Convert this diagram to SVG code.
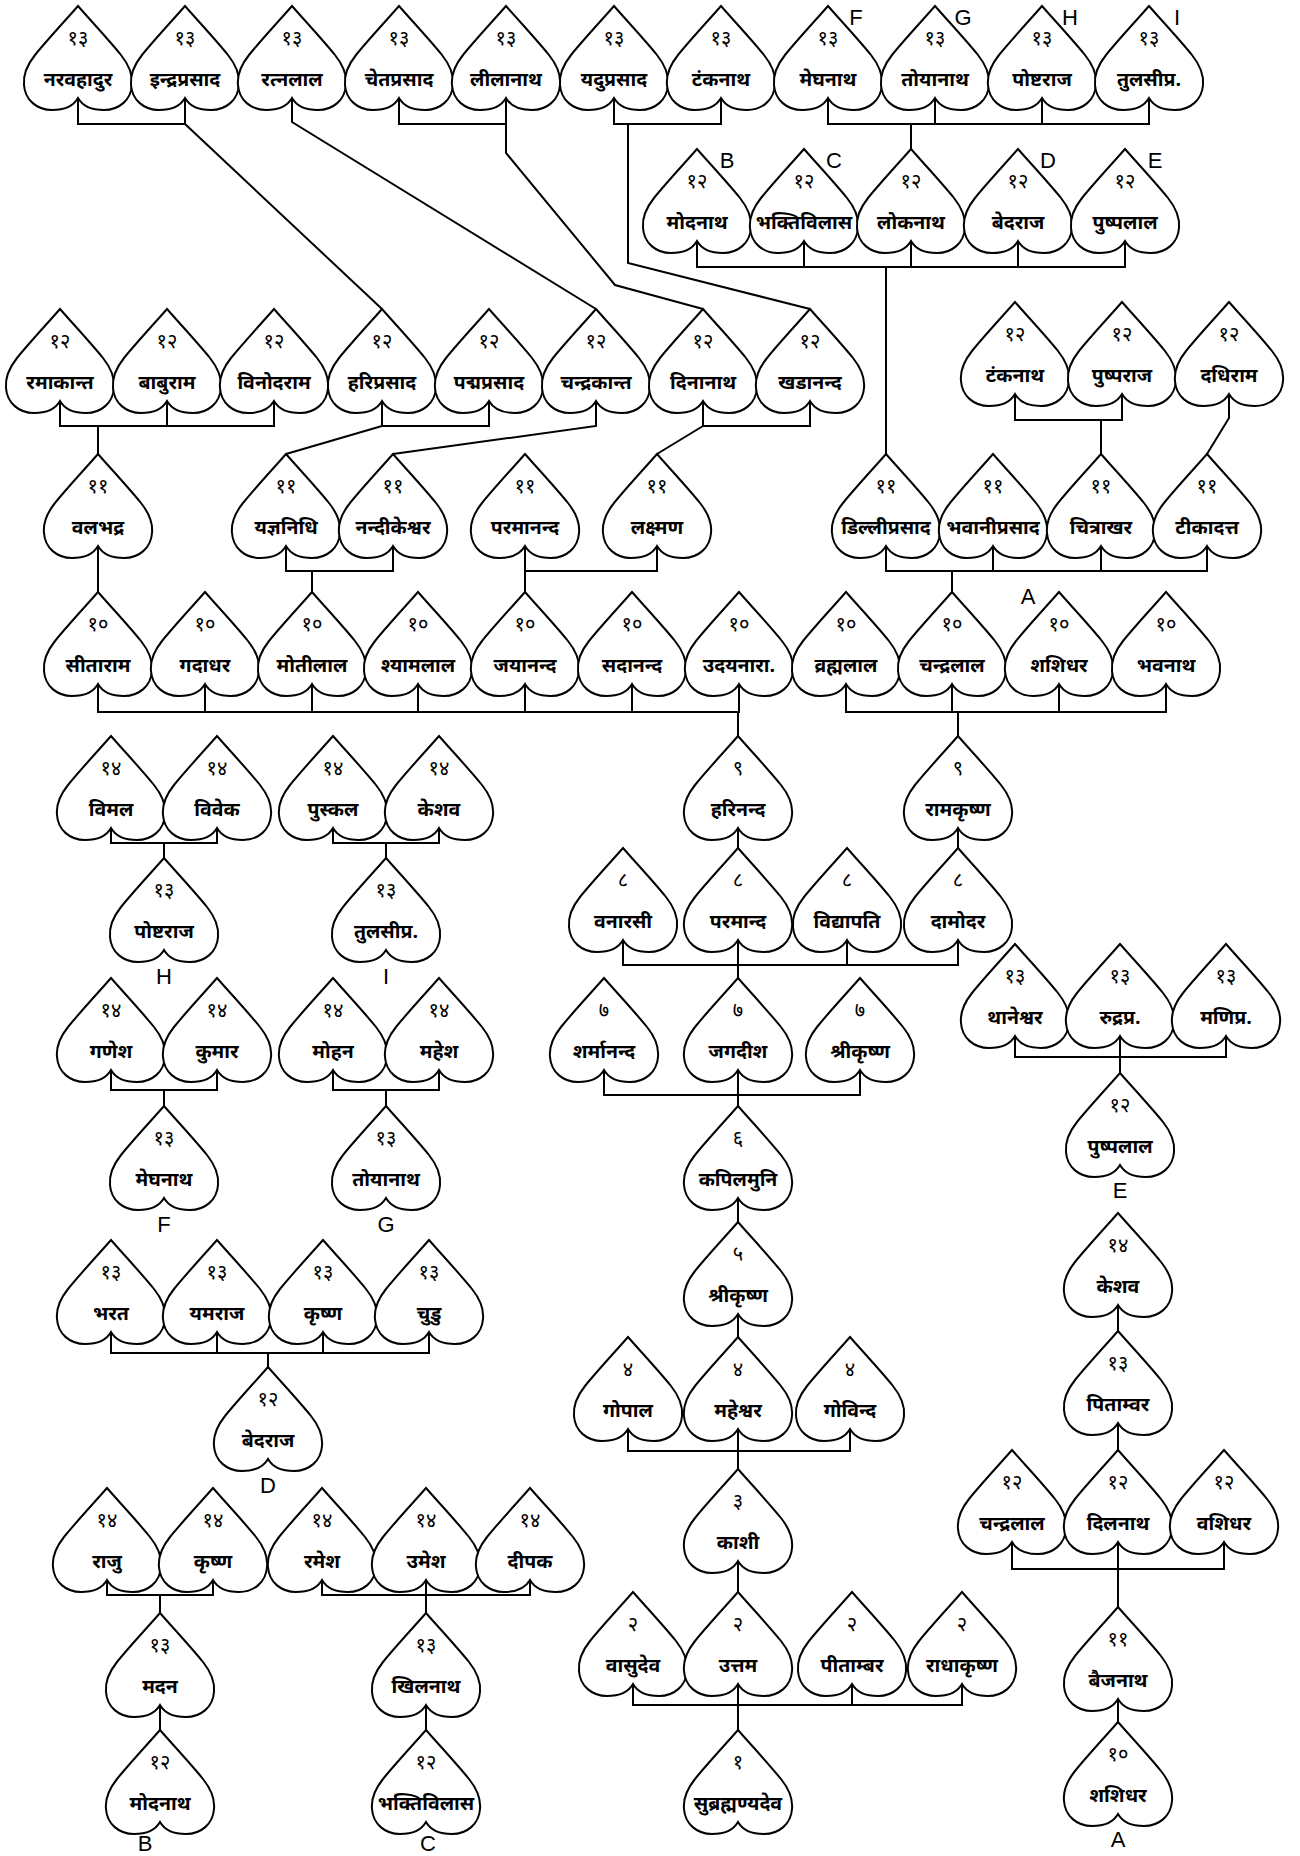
<svg xmlns="http://www.w3.org/2000/svg" xmlns:xlink="http://www.w3.org/1999/xlink" width="1300" height="1856" viewBox="0 0 1300 1856">
<style>
.n{font-family:"Noto Sans Devanagari","Lohit Devanagari","Noto Sans",sans-serif;font-size:20px;text-anchor:middle;fill:#000}
.t{font-family:"Noto Sans Devanagari","Lohit Devanagari","Noto Sans",sans-serif;font-size:19.5px;font-weight:bold;text-anchor:middle;fill:#000}
.l{font-family:"Liberation Sans",Arial,sans-serif;font-size:22px;text-anchor:middle;fill:#000}
#conn polyline{fill:none;stroke:#000;stroke-width:2}
</style>
<defs>
<path id="h" d="M0,0 C-14,16 -30,33 -43,49 C-51,59 -55,69 -54,79 C-53,94 -41,104 -26,104 C-13,104 -4,99 0,92 C4,99 13,104 26,104 C41,104 53,94 54,79 C55,69 51,59 43,49 C30,33 14,16 0,0 Z" fill="#fff" stroke="#000" stroke-width="2"/>
</defs>
<rect width="1300" height="1856" fill="#fff"/>
<g id="conn">
<polyline points="78,99 78,124 185,124 185,99"/>
<polyline points="185,124 382,309"/>
<polyline points="292,99 292,122 596,309"/>
<polyline points="399,99 399,124 506,124 506,99"/>
<polyline points="506,124 506,153 615,285 703,309"/>
<polyline points="614,99 614,124 721,124 721,99"/>
<polyline points="628,124 628,263 810,309"/>
<polyline points="828,99 828,124 1149,124 1149,99"/>
<polyline points="935,99 935,124"/>
<polyline points="1042,99 1042,124"/>
<polyline points="911,124 911,149"/>
<polyline points="697,242 697,267 1125,267 1125,242"/>
<polyline points="804,242 804,267"/>
<polyline points="911,242 911,267"/>
<polyline points="1018,242 1018,267"/>
<polyline points="886,267 886,454"/>
<polyline points="60,402 60,426 274,426 274,402"/>
<polyline points="167,402 167,426"/>
<polyline points="98,426 98,454"/>
<polyline points="382,402 382,426 489,426 489,402"/>
<polyline points="382,426 286,454"/>
<polyline points="596,402 596,426 393,454"/>
<polyline points="703,402 703,426 810,426 810,402"/>
<polyline points="703,426 657,454"/>
<polyline points="1015,395 1015,420 1122,420 1122,395"/>
<polyline points="1101,420 1101,454"/>
<polyline points="1229,395 1229,418 1207,454"/>
<polyline points="98,547 98,592"/>
<polyline points="286,547 286,571 393,571 393,547"/>
<polyline points="312,571 312,592"/>
<polyline points="525,547 525,571 657,571 657,547"/>
<polyline points="525,571 525,592"/>
<polyline points="886,547 886,571 1207,571 1207,547"/>
<polyline points="993,547 993,571"/>
<polyline points="1101,547 1101,571"/>
<polyline points="952,571 952,592"/>
<polyline points="98,685 98,712 739,712 739,685"/>
<polyline points="205,685 205,712"/>
<polyline points="312,685 312,712"/>
<polyline points="418,685 418,712"/>
<polyline points="525,685 525,712"/>
<polyline points="632,685 632,712"/>
<polyline points="738,712 738,736"/>
<polyline points="846,685 846,712 1166,712 1166,685"/>
<polyline points="952,685 952,712"/>
<polyline points="1059,685 1059,712"/>
<polyline points="958,712 958,736"/>
<polyline points="738,829 738,848"/>
<polyline points="958,829 958,848"/>
<polyline points="111,829 111,843 217,843 217,829"/>
<polyline points="164,843 164,858"/>
<polyline points="333,829 333,843 439,843 439,829"/>
<polyline points="386,843 386,858"/>
<polyline points="623,941 623,965 958,965 958,941"/>
<polyline points="847,941 847,965"/>
<polyline points="738,941 738,978"/>
<polyline points="1015,1037 1015,1057 1226,1057 1226,1037"/>
<polyline points="1120,1037 1120,1073"/>
<polyline points="111,1071 111,1090 217,1090 217,1071"/>
<polyline points="164,1090 164,1106"/>
<polyline points="333,1071 333,1090 439,1090 439,1071"/>
<polyline points="386,1090 386,1106"/>
<polyline points="604,1071 604,1095 860,1095 860,1071"/>
<polyline points="738,1071 738,1106"/>
<polyline points="738,1199 738,1222"/>
<polyline points="738,1315 738,1337"/>
<polyline points="628,1430 628,1451 850,1451 850,1430"/>
<polyline points="738,1430 738,1469"/>
<polyline points="738,1562 738,1592"/>
<polyline points="633,1685 633,1705 962,1705 962,1685"/>
<polyline points="852,1685 852,1705"/>
<polyline points="738,1685 738,1730"/>
<polyline points="111,1333 111,1353 429,1353 429,1333"/>
<polyline points="217,1333 217,1353"/>
<polyline points="323,1333 323,1353"/>
<polyline points="268,1353 268,1367"/>
<polyline points="107,1581 107,1595 213,1595 213,1581"/>
<polyline points="160,1595 160,1613"/>
<polyline points="322,1581 322,1595 530,1595 530,1581"/>
<polyline points="426,1581 426,1613"/>
<polyline points="160,1706 160,1730"/>
<polyline points="426,1706 426,1730"/>
<polyline points="1118,1306 1118,1331"/>
<polyline points="1118,1424 1118,1450"/>
<polyline points="1012,1543 1012,1569 1224,1569 1224,1543"/>
<polyline points="1118,1543 1118,1607"/>
<polyline points="1118,1700 1118,1722"/>
</g>
<g id="a1"><use xlink:href="#h" x="78" y="6"/><text class="n" x="78" y="45">१३</text><text class="t" x="78" y="86">नरवहादुर</text></g>
<g id="a2"><use xlink:href="#h" x="185" y="6"/><text class="n" x="185" y="45">१३</text><text class="t" x="185" y="86">इन्द्रप्रसाद</text></g>
<g id="a3"><use xlink:href="#h" x="292" y="6"/><text class="n" x="292" y="45">१३</text><text class="t" x="292" y="86">रत्नलाल</text></g>
<g id="a4"><use xlink:href="#h" x="399" y="6"/><text class="n" x="399" y="45">१३</text><text class="t" x="399" y="86">चेतप्रसाद</text></g>
<g id="a5"><use xlink:href="#h" x="506" y="6"/><text class="n" x="506" y="45">१३</text><text class="t" x="506" y="86">लीलानाथ</text></g>
<g id="a6"><use xlink:href="#h" x="614" y="6"/><text class="n" x="614" y="45">१३</text><text class="t" x="614" y="86">यदुप्रसाद</text></g>
<g id="a7"><use xlink:href="#h" x="721" y="6"/><text class="n" x="721" y="45">१३</text><text class="t" x="721" y="86">टंकनाथ</text></g>
<g id="a8"><use xlink:href="#h" x="828" y="6"/><text class="n" x="828" y="45">१३</text><text class="t" x="828" y="86">मेघनाथ</text><text class="l" x="856" y="25">F</text></g>
<g id="a9"><use xlink:href="#h" x="935" y="6"/><text class="n" x="935" y="45">१३</text><text class="t" x="935" y="86">तोयानाथ</text><text class="l" x="963" y="25">G</text></g>
<g id="a10"><use xlink:href="#h" x="1042" y="6"/><text class="n" x="1042" y="45">१३</text><text class="t" x="1042" y="86">पोष्टराज</text><text class="l" x="1070" y="25">H</text></g>
<g id="a11"><use xlink:href="#h" x="1149" y="6"/><text class="n" x="1149" y="45">१३</text><text class="t" x="1149" y="86">तुलसीप्र.</text><text class="l" x="1177" y="25">I</text></g>
<g id="b1"><use xlink:href="#h" x="697" y="149"/><text class="n" x="697" y="188">१२</text><text class="t" x="697" y="229">मोदनाथ</text><text class="l" x="727" y="168">B</text></g>
<g id="b2"><use xlink:href="#h" x="804" y="149"/><text class="n" x="804" y="188">१२</text><text class="t" x="804" y="229">भक्तिविलास</text><text class="l" x="834" y="168">C</text></g>
<g id="b3"><use xlink:href="#h" x="911" y="149"/><text class="n" x="911" y="188">१२</text><text class="t" x="911" y="229">लोकनाथ</text></g>
<g id="b4"><use xlink:href="#h" x="1018" y="149"/><text class="n" x="1018" y="188">१२</text><text class="t" x="1018" y="229">बेदराज</text><text class="l" x="1048" y="168">D</text></g>
<g id="b5"><use xlink:href="#h" x="1125" y="149"/><text class="n" x="1125" y="188">१२</text><text class="t" x="1125" y="229">पुष्पलाल</text><text class="l" x="1155" y="168">E</text></g>
<g id="c1"><use xlink:href="#h" x="60" y="309"/><text class="n" x="60" y="348">१२</text><text class="t" x="60" y="389">रमाकान्त</text></g>
<g id="c2"><use xlink:href="#h" x="167" y="309"/><text class="n" x="167" y="348">१२</text><text class="t" x="167" y="389">बाबुराम</text></g>
<g id="c3"><use xlink:href="#h" x="274" y="309"/><text class="n" x="274" y="348">१२</text><text class="t" x="274" y="389">विनोदराम</text></g>
<g id="c4"><use xlink:href="#h" x="382" y="309"/><text class="n" x="382" y="348">१२</text><text class="t" x="382" y="389">हरिप्रसाद</text></g>
<g id="c5"><use xlink:href="#h" x="489" y="309"/><text class="n" x="489" y="348">१२</text><text class="t" x="489" y="389">पद्मप्रसाद</text></g>
<g id="c6"><use xlink:href="#h" x="596" y="309"/><text class="n" x="596" y="348">१२</text><text class="t" x="596" y="389">चन्द्रकान्त</text></g>
<g id="c7"><use xlink:href="#h" x="703" y="309"/><text class="n" x="703" y="348">१२</text><text class="t" x="703" y="389">दिनानाथ</text></g>
<g id="c8"><use xlink:href="#h" x="810" y="309"/><text class="n" x="810" y="348">१२</text><text class="t" x="810" y="389">खडानन्द</text></g>
<g id="c9"><use xlink:href="#h" x="1015" y="302"/><text class="n" x="1015" y="341">१२</text><text class="t" x="1015" y="382">टंकनाथ</text></g>
<g id="c10"><use xlink:href="#h" x="1122" y="302"/><text class="n" x="1122" y="341">१२</text><text class="t" x="1122" y="382">पुष्पराज</text></g>
<g id="c11"><use xlink:href="#h" x="1229" y="302"/><text class="n" x="1229" y="341">१२</text><text class="t" x="1229" y="382">दधिराम</text></g>
<g id="d1"><use xlink:href="#h" x="98" y="454"/><text class="n" x="98" y="493">११</text><text class="t" x="98" y="534">वलभद्र</text></g>
<g id="d2"><use xlink:href="#h" x="286" y="454"/><text class="n" x="286" y="493">११</text><text class="t" x="286" y="534">यज्ञनिधि</text></g>
<g id="d3"><use xlink:href="#h" x="393" y="454"/><text class="n" x="393" y="493">११</text><text class="t" x="393" y="534">नन्दीकेश्वर</text></g>
<g id="d4"><use xlink:href="#h" x="525" y="454"/><text class="n" x="525" y="493">११</text><text class="t" x="525" y="534">परमानन्द</text></g>
<g id="d5"><use xlink:href="#h" x="657" y="454"/><text class="n" x="657" y="493">११</text><text class="t" x="657" y="534">लक्ष्मण</text></g>
<g id="d6"><use xlink:href="#h" x="886" y="454"/><text class="n" x="886" y="493">११</text><text class="t" x="886" y="534">डिल्लीप्रसाद</text></g>
<g id="d7"><use xlink:href="#h" x="993" y="454"/><text class="n" x="993" y="493">११</text><text class="t" x="993" y="534">भवानीप्रसाद</text></g>
<g id="d8"><use xlink:href="#h" x="1101" y="454"/><text class="n" x="1101" y="493">११</text><text class="t" x="1101" y="534">चित्राखर</text></g>
<g id="d9"><use xlink:href="#h" x="1207" y="454"/><text class="n" x="1207" y="493">११</text><text class="t" x="1207" y="534">टीकादत्त</text></g>
<g id="e1"><use xlink:href="#h" x="98" y="592"/><text class="n" x="98" y="631">१०</text><text class="t" x="98" y="672">सीताराम</text></g>
<g id="e2"><use xlink:href="#h" x="205" y="592"/><text class="n" x="205" y="631">१०</text><text class="t" x="205" y="672">गदाधर</text></g>
<g id="e3"><use xlink:href="#h" x="312" y="592"/><text class="n" x="312" y="631">१०</text><text class="t" x="312" y="672">मोतीलाल</text></g>
<g id="e4"><use xlink:href="#h" x="418" y="592"/><text class="n" x="418" y="631">१०</text><text class="t" x="418" y="672">श्यामलाल</text></g>
<g id="e5"><use xlink:href="#h" x="525" y="592"/><text class="n" x="525" y="631">१०</text><text class="t" x="525" y="672">जयानन्द</text></g>
<g id="e6"><use xlink:href="#h" x="632" y="592"/><text class="n" x="632" y="631">१०</text><text class="t" x="632" y="672">सदानन्द</text></g>
<g id="e7"><use xlink:href="#h" x="739" y="592"/><text class="n" x="739" y="631">१०</text><text class="t" x="739" y="672">उदयनारा.</text></g>
<g id="e8"><use xlink:href="#h" x="846" y="592"/><text class="n" x="846" y="631">१०</text><text class="t" x="846" y="672">व्रह्मलाल</text></g>
<g id="e9"><use xlink:href="#h" x="952" y="592"/><text class="n" x="952" y="631">१०</text><text class="t" x="952" y="672">चन्द्रलाल</text></g>
<g id="e10"><use xlink:href="#h" x="1059" y="592"/><text class="n" x="1059" y="631">१०</text><text class="t" x="1059" y="672">शशिधर</text></g>
<g id="e11"><use xlink:href="#h" x="1166" y="592"/><text class="n" x="1166" y="631">१०</text><text class="t" x="1166" y="672">भवनाथ</text></g>
<text class="l" x="1028" y="604">A</text>
<g id="f1"><use xlink:href="#h" x="111" y="736"/><text class="n" x="111" y="775">१४</text><text class="t" x="111" y="816">विमल</text></g>
<g id="f2"><use xlink:href="#h" x="217" y="736"/><text class="n" x="217" y="775">१४</text><text class="t" x="217" y="816">विवेक</text></g>
<g id="f3"><use xlink:href="#h" x="333" y="736"/><text class="n" x="333" y="775">१४</text><text class="t" x="333" y="816">पुस्कल</text></g>
<g id="f4"><use xlink:href="#h" x="439" y="736"/><text class="n" x="439" y="775">१४</text><text class="t" x="439" y="816">केशव</text></g>
<g id="f5"><use xlink:href="#h" x="738" y="736"/><text class="n" x="738" y="775">९</text><text class="t" x="738" y="816">हरिनन्द</text></g>
<g id="f6"><use xlink:href="#h" x="958" y="736"/><text class="n" x="958" y="775">९</text><text class="t" x="958" y="816">रामकृष्ण</text></g>
<g id="g1"><use xlink:href="#h" x="623" y="848"/><text class="n" x="623" y="887">८</text><text class="t" x="623" y="928">वनारसी</text></g>
<g id="g2"><use xlink:href="#h" x="738" y="848"/><text class="n" x="738" y="887">८</text><text class="t" x="738" y="928">परमान्द</text></g>
<g id="g3"><use xlink:href="#h" x="847" y="848"/><text class="n" x="847" y="887">८</text><text class="t" x="847" y="928">विद्यापति</text></g>
<g id="g4"><use xlink:href="#h" x="958" y="848"/><text class="n" x="958" y="887">८</text><text class="t" x="958" y="928">दामोदर</text></g>
<g id="g5"><use xlink:href="#h" x="164" y="858"/><text class="n" x="164" y="897">१३</text><text class="t" x="164" y="938">पोष्टराज</text><text class="l" x="164" y="984">H</text></g>
<g id="g6"><use xlink:href="#h" x="386" y="858"/><text class="n" x="386" y="897">१३</text><text class="t" x="386" y="938">तुलसीप्र.</text><text class="l" x="386" y="984">I</text></g>
<g id="r1"><use xlink:href="#h" x="1015" y="944"/><text class="n" x="1015" y="983">१३</text><text class="t" x="1015" y="1024">थानेश्वर</text></g>
<g id="r2"><use xlink:href="#h" x="1120" y="944"/><text class="n" x="1120" y="983">१३</text><text class="t" x="1120" y="1024">रुद्रप्र.</text></g>
<g id="r3"><use xlink:href="#h" x="1226" y="944"/><text class="n" x="1226" y="983">१३</text><text class="t" x="1226" y="1024">मणिप्र.</text></g>
<g id="r4"><use xlink:href="#h" x="1120" y="1073"/><text class="n" x="1120" y="1112">१२</text><text class="t" x="1120" y="1153">पुष्पलाल</text><text class="l" x="1120" y="1198">E</text></g>
<g id="h1"><use xlink:href="#h" x="111" y="978"/><text class="n" x="111" y="1017">१४</text><text class="t" x="111" y="1058">गणेश</text></g>
<g id="h2"><use xlink:href="#h" x="217" y="978"/><text class="n" x="217" y="1017">१४</text><text class="t" x="217" y="1058">कुमार</text></g>
<g id="h3"><use xlink:href="#h" x="333" y="978"/><text class="n" x="333" y="1017">१४</text><text class="t" x="333" y="1058">मोहन</text></g>
<g id="h4"><use xlink:href="#h" x="439" y="978"/><text class="n" x="439" y="1017">१४</text><text class="t" x="439" y="1058">महेश</text></g>
<g id="h5"><use xlink:href="#h" x="604" y="978"/><text class="n" x="604" y="1017">७</text><text class="t" x="604" y="1058">शर्मानन्द</text></g>
<g id="h6"><use xlink:href="#h" x="738" y="978"/><text class="n" x="738" y="1017">७</text><text class="t" x="738" y="1058">जगदीश</text></g>
<g id="h7"><use xlink:href="#h" x="860" y="978"/><text class="n" x="860" y="1017">७</text><text class="t" x="860" y="1058">श्रीकृष्ण</text></g>
<g id="i1"><use xlink:href="#h" x="164" y="1106"/><text class="n" x="164" y="1145">१३</text><text class="t" x="164" y="1186">मेघनाथ</text><text class="l" x="164" y="1232">F</text></g>
<g id="i2"><use xlink:href="#h" x="386" y="1106"/><text class="n" x="386" y="1145">१३</text><text class="t" x="386" y="1186">तोयानाथ</text><text class="l" x="386" y="1232">G</text></g>
<g id="i3"><use xlink:href="#h" x="738" y="1106"/><text class="n" x="738" y="1145">६</text><text class="t" x="738" y="1186">कपिलमुनि</text></g>
<g id="j1"><use xlink:href="#h" x="738" y="1222"/><text class="n" x="738" y="1261">५</text><text class="t" x="738" y="1302">श्रीकृष्ण</text></g>
<g id="r5"><use xlink:href="#h" x="1118" y="1213"/><text class="n" x="1118" y="1252">१४</text><text class="t" x="1118" y="1293">केशव</text></g>
<g id="k1"><use xlink:href="#h" x="111" y="1240"/><text class="n" x="111" y="1279">१३</text><text class="t" x="111" y="1320">भरत</text></g>
<g id="k2"><use xlink:href="#h" x="217" y="1240"/><text class="n" x="217" y="1279">१३</text><text class="t" x="217" y="1320">यमराज</text></g>
<g id="k3"><use xlink:href="#h" x="323" y="1240"/><text class="n" x="323" y="1279">१३</text><text class="t" x="323" y="1320">कृष्ण</text></g>
<g id="k4"><use xlink:href="#h" x="429" y="1240"/><text class="n" x="429" y="1279">१३</text><text class="t" x="429" y="1320">चुडु</text></g>
<g id="r6"><use xlink:href="#h" x="1118" y="1331"/><text class="n" x="1118" y="1370">१३</text><text class="t" x="1118" y="1411">पिताम्वर</text></g>
<g id="l1"><use xlink:href="#h" x="628" y="1337"/><text class="n" x="628" y="1376">४</text><text class="t" x="628" y="1417">गोपाल</text></g>
<g id="l2"><use xlink:href="#h" x="738" y="1337"/><text class="n" x="738" y="1376">४</text><text class="t" x="738" y="1417">महेश्वर</text></g>
<g id="l3"><use xlink:href="#h" x="850" y="1337"/><text class="n" x="850" y="1376">४</text><text class="t" x="850" y="1417">गोविन्द</text></g>
<g id="m1"><use xlink:href="#h" x="268" y="1367"/><text class="n" x="268" y="1406">१२</text><text class="t" x="268" y="1447">बेदराज</text><text class="l" x="268" y="1493">D</text></g>
<g id="r7"><use xlink:href="#h" x="1012" y="1450"/><text class="n" x="1012" y="1489">१२</text><text class="t" x="1012" y="1530">चन्द्रलाल</text></g>
<g id="r8"><use xlink:href="#h" x="1118" y="1450"/><text class="n" x="1118" y="1489">१२</text><text class="t" x="1118" y="1530">दिलनाथ</text></g>
<g id="r9"><use xlink:href="#h" x="1224" y="1450"/><text class="n" x="1224" y="1489">१२</text><text class="t" x="1224" y="1530">वशिधर</text></g>
<g id="o1"><use xlink:href="#h" x="738" y="1469"/><text class="n" x="738" y="1508">३</text><text class="t" x="738" y="1549">काशी</text></g>
<g id="p1"><use xlink:href="#h" x="107" y="1488"/><text class="n" x="107" y="1527">१४</text><text class="t" x="107" y="1568">राजु</text></g>
<g id="p2"><use xlink:href="#h" x="213" y="1488"/><text class="n" x="213" y="1527">१४</text><text class="t" x="213" y="1568">कृष्ण</text></g>
<g id="p3"><use xlink:href="#h" x="322" y="1488"/><text class="n" x="322" y="1527">१४</text><text class="t" x="322" y="1568">रमेश</text></g>
<g id="p4"><use xlink:href="#h" x="426" y="1488"/><text class="n" x="426" y="1527">१४</text><text class="t" x="426" y="1568">उमेश</text></g>
<g id="p5"><use xlink:href="#h" x="530" y="1488"/><text class="n" x="530" y="1527">१४</text><text class="t" x="530" y="1568">दीपक</text></g>
<g id="q1"><use xlink:href="#h" x="633" y="1592"/><text class="n" x="633" y="1631">२</text><text class="t" x="633" y="1672">वासुदेव</text></g>
<g id="q2"><use xlink:href="#h" x="738" y="1592"/><text class="n" x="738" y="1631">२</text><text class="t" x="738" y="1672">उत्तम</text></g>
<g id="q3"><use xlink:href="#h" x="852" y="1592"/><text class="n" x="852" y="1631">२</text><text class="t" x="852" y="1672">पीताम्बर</text></g>
<g id="q4"><use xlink:href="#h" x="962" y="1592"/><text class="n" x="962" y="1631">२</text><text class="t" x="962" y="1672">राधाकृष्ण</text></g>
<g id="r10"><use xlink:href="#h" x="1118" y="1607"/><text class="n" x="1118" y="1646">११</text><text class="t" x="1118" y="1687">बैजनाथ</text></g>
<g id="s1"><use xlink:href="#h" x="160" y="1613"/><text class="n" x="160" y="1652">१३</text><text class="t" x="160" y="1693">मदन</text></g>
<g id="s2"><use xlink:href="#h" x="426" y="1613"/><text class="n" x="426" y="1652">१३</text><text class="t" x="426" y="1693">खिलनाथ</text></g>
<g id="r11"><use xlink:href="#h" x="1118" y="1722"/><text class="n" x="1118" y="1761">१०</text><text class="t" x="1118" y="1802">शशिधर</text><text class="l" x="1118" y="1847">A</text></g>
<g id="t1"><use xlink:href="#h" x="160" y="1730"/><text class="n" x="160" y="1769">१२</text><text class="t" x="160" y="1810">मोदनाथ</text><text class="l" x="145" y="1851">B</text></g>
<g id="t2"><use xlink:href="#h" x="426" y="1730"/><text class="n" x="426" y="1769">१२</text><text class="t" x="426" y="1810">भक्तिविलास</text><text class="l" x="428" y="1851">C</text></g>
<g id="t3"><use xlink:href="#h" x="738" y="1730"/><text class="n" x="738" y="1769">१</text><text class="t" x="738" y="1810">सुब्रह्मण्यदेव</text></g>
</svg>
